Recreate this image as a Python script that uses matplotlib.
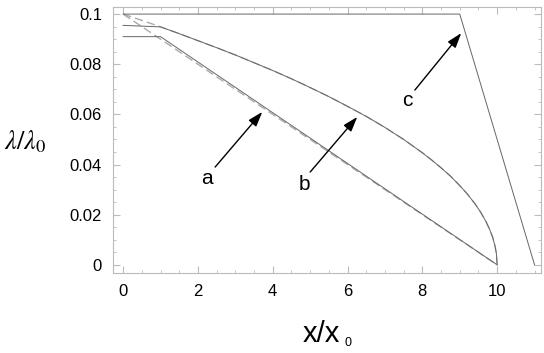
import numpy as np
import matplotlib.pyplot as plt
from matplotlib.ticker import MultipleLocator

plt.rcParams['mathtext.fontset'] = 'stix'

# curve a (straight decay), solid and dashed version
a_x = [0, 1, 10]
a_y = [0.091, 0.091, 0.0]
a_dash_x = [0, 10]
a_dash_y = [0.1, 0.0]

# curve b
b_x = [0, 0.5, 1, 1.5, 2, 2.5, 3, 3.5, 4, 4.5, 5, 5.5, 6, 6.5, 7, 7.5, 8,
       8.25, 8.5, 8.75, 9, 9.2, 9.4, 9.55, 9.7, 9.8, 9.88, 9.94, 9.98, 10]
b_y = [0.1, 0.0975, 0.0949, 0.0922, 0.0894, 0.0866, 0.0837, 0.0806, 0.0775,
       0.0742, 0.0707, 0.0671, 0.0632, 0.0592, 0.0548, 0.05, 0.0447, 0.0418,
       0.0387, 0.0354, 0.0316, 0.0283, 0.0245, 0.0212, 0.0173, 0.0141,
       0.011, 0.0077, 0.0045, 0.0]
b_solid_x = [0] + b_x[2:]
b_solid_y = [0.0955] + b_y[2:]

# curve c
c_x = [0, 9, 11]
c_y = [0.1, 0.1, 0.0]

# arrows: label, label pos, arrow start, arrow tip
arrows = [
    ("a", (2.25, 0.0345), (2.46, 0.039), (3.72, 0.061)),
    ("b", (4.84, 0.032), (5.0, 0.037), (6.26, 0.059)),
    ("c", (7.6, 0.0655), (7.8, 0.0697), (9.04, 0.0924)),
]

fig = plt.figure(figsize=(5.44, 3.53), dpi=100)
ax = fig.add_axes([0.208, 0.227, 0.787, 0.753])

ax.plot(a_dash_x, a_dash_y, color='#aaaaaa', lw=1.0, ls=(0, (6, 3)))
ax.plot(a_x, a_y, color='#666666', lw=0.7)
ax.plot(b_x, b_y, color='#aaaaaa', lw=1.0, ls=(0, (6, 3)))
ax.plot(b_solid_x, b_solid_y, color='#666666', lw=0.7)
ax.plot(c_x, c_y, color='#666666', lw=0.7)

for lab, tpos, start, tip in arrows:
    ax.annotate('', xy=tip, xytext=start,
                arrowprops=dict(arrowstyle='-|>,head_length=0.9,head_width=0.3',
                                color='black', lw=1.0, shrinkA=0, shrinkB=0))
    ax.text(tpos[0], tpos[1], lab, fontsize=15, family='Liberation Sans',
            ha='center', va='center')

ax.set_xlim(-0.267, 11.18)
ax.set_ylim(-0.0032, 0.1028)
ax.xaxis.set_major_locator(MultipleLocator(2))
ax.xaxis.set_minor_locator(MultipleLocator(0.5))
ax.yaxis.set_minor_locator(MultipleLocator(0.005))
ax.set_yticks([0, 0.02, 0.04, 0.06, 0.08, 0.1])
ax.set_yticklabels(['0', '0.02', '0.04', '0.06', '0.08', '0.1'])

for s in ax.spines.values():
    s.set_color('#bbbbbb')
    s.set_linewidth(0.8)
ax.tick_params(which='both', direction='in', color='#bbbbbb', top=True, right=True,
               labelsize=12)
ax.tick_params(which='major', length=5)
ax.tick_params(which='minor', length=2.5)
ax.tick_params(axis='x', pad=8)
ax.tick_params(axis='y', pad=8)
for t in ax.get_xticklabels() + ax.get_yticklabels():
    t.set_family('Liberation Sans')

fig.text(0.046, 0.597, r'$\lambda/\lambda_0$', fontsize=19, ha='center', va='center')
fig.text(0.59, 0.054, 'x/x', fontsize=21, family='Liberation Sans',
         ha='center', va='center')
fig.text(0.64, 0.028, '0', fontsize=9, family='Liberation Sans',
         ha='center', va='center')

fig.savefig('out.png', dpi=100)
